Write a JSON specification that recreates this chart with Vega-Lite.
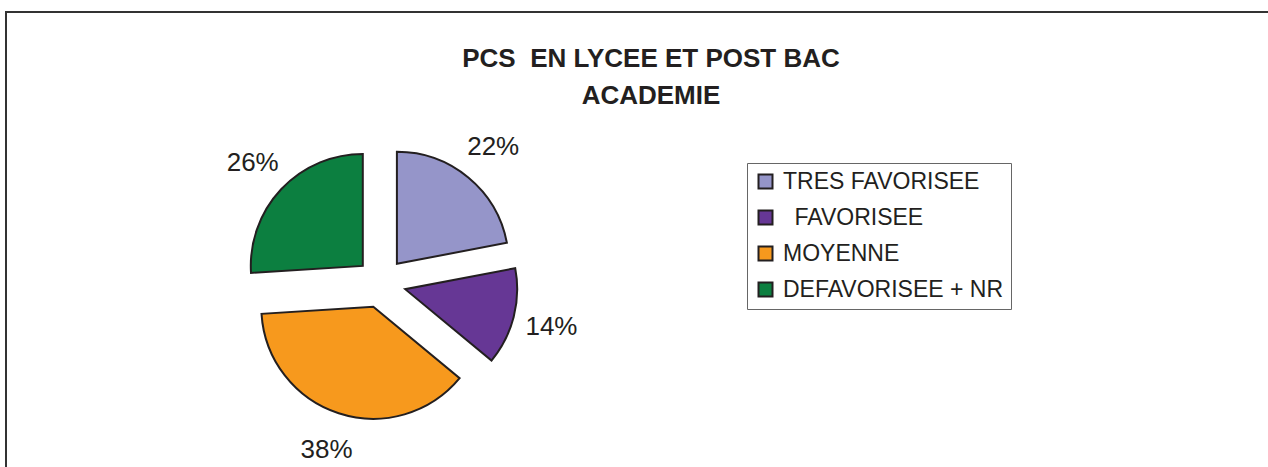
{
  "$schema": "https://vega.github.io/schema/vega-lite/v6.json",
  "width": 1400,
  "height": 520,
  "autosize": {"type": "none"},
  "padding": {"left": 6, "top": 12, "right": -138, "bottom": -65},
  "background": "white",
  "view": {"stroke": "#333333", "strokeWidth": 2, "fill": "white"},
  "config": {
    "font": "Liberation Sans"
  },
  "title": {
    "text": ["PCS\u00a0\u00a0EN LYCEE ET POST BAC", "ACADEMIE"],
    "font": "Liberation Sans",
    "fontSize": 26,
    "fontWeight": "bold",
    "color": "#231f20",
    "lineHeight": 37,
    "anchor": "middle",
    "frame": "group",
    "dx": -55,
    "offset": -97
  },
  "data": {
    "values": [
      {"k": 1, "cat": "TRES FAVORISEE", "value": 0.22},
      {"k": 2, "cat": "\u200b\u2002FAVORISEE", "value": 0.14},
      {"k": 3, "cat": "MOYENNE", "value": 0.38},
      {"k": 4, "cat": "DEFAVORISEE + NR", "value": 0.26}
    ]
  },
  "transform": [
    {"stack": "value", "groupby": [], "sort": [{"field": "k", "order": "ascending"}], "as": ["v0", "v1"]}
  ],
  "layer": [
    {
      "transform": [{"filter": "datum.k == 1"}],
      "mark": {"type": "arc", "radius": 112, "stroke": "#231f20", "strokeWidth": 2, "xOffset": -309.1, "yOffset": -8.2},
      "encoding": {
        "theta": {"field": "v0", "type": "quantitative", "scale": {"domain": [0, 1]}},
        "theta2": {"field": "v1"},
        "color": {
          "field": "cat", "type": "nominal",
          "scale": {"domain": ["TRES FAVORISEE", "\u200b\u2002FAVORISEE", "MOYENNE", "DEFAVORISEE + NR"], "range": ["#9595c9", "#663795", "#f7991d", "#0c7f40"]},
          "legend": {
            "title": null, "orient": "none", "legendX": 741, "legendY": 151,
            "padding": 7, "strokeColor": "#666666", "fillColor": "white",
            "labelFont": "Liberation Sans", "labelFontSize": 23, "labelColor": "#231f20", "labelLimit": 500,
            "symbolType": "square", "symbolSize": 196, "symbolStrokeColor": "#231f20", "symbolStrokeWidth": 2,
            "symbolOpacity": 1, "rowPadding": 12, "labelOffset": 6
          }
        }
      }
    },
    {
      "transform": [{"filter": "datum.k == 2"}],
      "mark": {"type": "arc", "radius": 112, "stroke": "#231f20", "strokeWidth": 2, "xOffset": -300.8, "yOffset": 17.2},
      "encoding": {
        "theta": {"field": "v0", "type": "quantitative", "scale": {"domain": [0, 1]}},
        "theta2": {"field": "v1"},
        "color": {"field": "cat", "type": "nominal"}
      }
    },
    {
      "transform": [{"filter": "datum.k == 3"}],
      "mark": {"type": "arc", "radius": 112, "stroke": "#231f20", "strokeWidth": 2, "xOffset": -332.7, "yOffset": 34.8},
      "encoding": {
        "theta": {"field": "v0", "type": "quantitative", "scale": {"domain": [0, 1]}},
        "theta2": {"field": "v1"},
        "color": {"field": "cat", "type": "nominal"}
      }
    },
    {
      "transform": [{"filter": "datum.k == 4"}],
      "mark": {"type": "arc", "radius": 112, "stroke": "#231f20", "strokeWidth": 2, "xOffset": -343.2, "yOffset": -6.1},
      "encoding": {
        "theta": {"field": "v0", "type": "quantitative", "scale": {"domain": [0, 1]}},
        "theta2": {"field": "v1"},
        "color": {"field": "cat", "type": "nominal"}
      }
    },
    {
      "mark": {"type": "text", "radius": 176, "font": "Liberation Sans", "fontSize": 26, "color": "#231f20", "align": "center", "baseline": "middle", "xOffset": -325, "yOffset": 11},
      "encoding": {
        "theta": {"field": "value", "type": "quantitative", "stack": true, "scale": {"domain": [0, 1]}},
        "order": {"field": "k", "type": "quantitative", "sort": "ascending"},
        "text": {"field": "value", "type": "quantitative", "format": ".0%"}
      }
    }
  ]
}
